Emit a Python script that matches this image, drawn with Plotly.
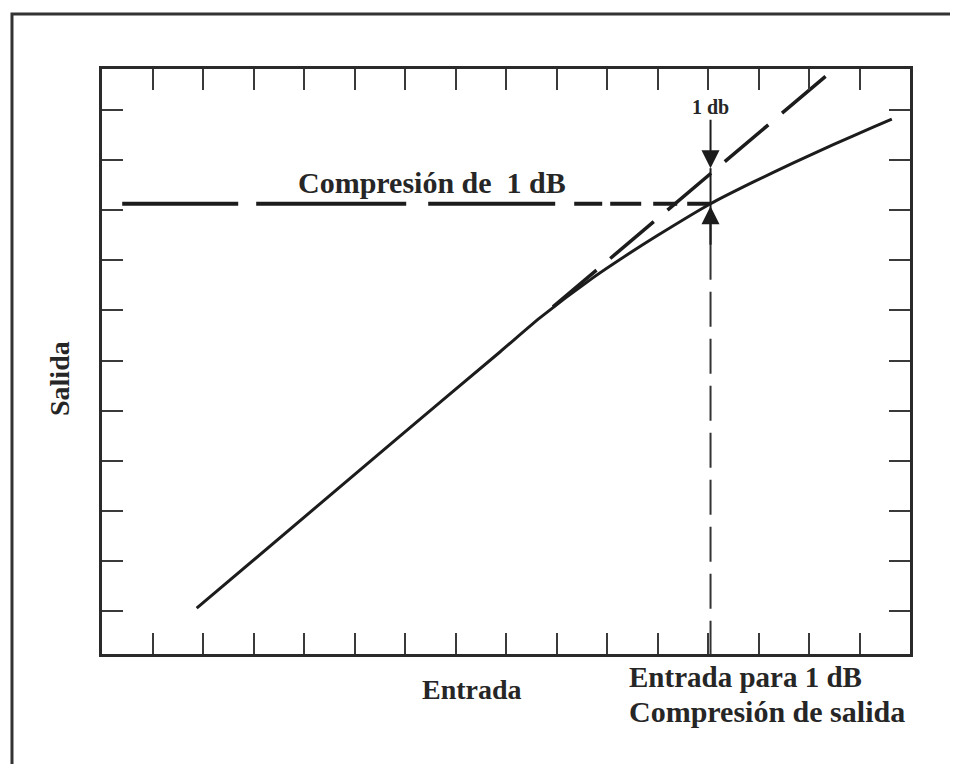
import plotly.graph_objects as go

# ---------------- data ----------------
x_ticks = list(range(1, 16))
y_ticks = list(range(0, 11))

# measured (compressed) output curve
curve_x = [1.875, 5.90, 7.88, 8.67, 9.72, 10.46, 10.99, 12.05, 12.89, 13.68, 14.48, 15.27, 15.64]
curve_y = [0.054, 3.49, 5.17, 5.85, 6.65, 7.15, 7.49, 8.13, 8.56, 8.94, 9.31, 9.66, 9.82]

# ideal linear extrapolation (dashed)
lin_x = [8.93, 14.36]
lin_y = [6.07, 10.70]

# 1 dB compression point
p1db_x = 12.05
p1db_y = 8.13
ref_start_x = 0.40
lin_at_p1db = 8.84
vert_split_y = 7.31

x_range = [0, 16]
y_range = [-0.86, 10.82]

# ---------------- figure ----------------
INK = "#1c1c1c"
TXT = "#262626"
FONT = "Liberation Serif"

fig = go.Figure()

fig.add_trace(go.Scatter(
    x=curve_x, y=curve_y, mode="lines",
    line=dict(color=INK, width=3, shape="spline", smoothing=0.6),
    hoverinfo="skip"))

fig.add_trace(go.Scatter(
    x=lin_x, y=lin_y, mode="lines",
    line=dict(color=INK, width=3.5, dash="57px,18px"),
    hoverinfo="skip"))

fig.add_trace(go.Scatter(
    x=[ref_start_x, p1db_x], y=[p1db_y, p1db_y], mode="lines",
    line=dict(color=INK, width=4,
              dash="116px,18px,150px,22px,127px,19px,28px,8px,31px,12px,24px,10px,60px"),
    hoverinfo="skip"))

fig.add_trace(go.Scatter(
    x=[p1db_x, p1db_x], y=[lin_at_p1db, vert_split_y], mode="lines",
    line=dict(color=INK, width=2),
    hoverinfo="skip"))

fig.add_trace(go.Scatter(
    x=[p1db_x, p1db_x], y=[vert_split_y, y_range[0]], mode="lines",
    line=dict(color="#333333", width=2, dash="35px,12px"),
    hoverinfo="skip"))

axis_common = dict(
    showgrid=False, zeroline=False, showticklabels=False,
    ticks="inside", ticklen=21, tickwidth=1.8, tickcolor="#3a3a3a",
    showline=True, linewidth=3, linecolor="#2a2a2a", mirror="allticks",
    fixedrange=True)

# the page body adds an 8px offset, margins compensate for it
fig.update_layout(
    width=958, height=764,
    margin=dict(l=94, r=56, t=61, b=118),
    paper_bgcolor="white", plot_bgcolor="white",
    showlegend=False,
    xaxis=dict(range=x_range, tickvals=x_ticks, **axis_common),
    yaxis=dict(range=y_range, tickvals=y_ticks, **axis_common),
)

# outer frame (partially visible border of the original figure)
fig.add_shape(type="path", xref="paper", yref="paper",
              path="M -0.1114,-0.25 L -0.1114,1.094 L 1.08,1.094",
              line=dict(color="#333333", width=3))

ann_font = dict(family=FONT, color=TXT)

fig.add_annotation(x=6.53, y=8.56, xref="x", yref="y",
                   xanchor="center", yanchor="middle",
                   text="<b>Compresión de\u00a0 1 dB</b>", showarrow=False,
                   font=dict(size=30, **ann_font))

# "1 db" with downward arrow
fig.add_annotation(x=p1db_x, y=lin_at_p1db, xref="x", yref="y",
                   text="<b>1 db</b>", showarrow=True,
                   ax=0, ay=-61, arrowhead=2, arrowsize=1.8, arrowwidth=2,
                   arrowcolor=INK, font=dict(size=20, **ann_font))

# upward arrow
fig.add_annotation(x=p1db_x, y=p1db_y - 0.05, xref="x", yref="y",
                   text="", showarrow=True,
                   ax=0, ay=40, arrowhead=2, arrowsize=1.8, arrowwidth=2,
                   arrowcolor=INK)

fig.add_annotation(x=0.458, y=-0.0615, xref="paper", yref="paper",
                   xanchor="center", yanchor="middle",
                   text="<b>Entrada</b>", showarrow=False,
                   font=dict(size=28, **ann_font))

fig.add_annotation(x=0.6498, y=-0.0393, xref="paper", yref="paper",
                   xanchor="left", yanchor="middle",
                   text="<b>Entrada para 1 dB</b>", showarrow=False,
                   font=dict(size=29, **ann_font))

fig.add_annotation(x=0.6498, y=-0.0991, xref="paper", yref="paper",
                   xanchor="left", yanchor="middle",
                   text="<b>Compresión de salida</b>", showarrow=False,
                   font=dict(size=30, **ann_font))

fig.add_annotation(x=-0.052, y=0.4718, xref="paper", yref="paper",
                   xanchor="center", yanchor="middle",
                   text="<b>Salida</b>", textangle=-90, showarrow=False,
                   font=dict(size=28, **ann_font))

fig.write_html("out.html")
